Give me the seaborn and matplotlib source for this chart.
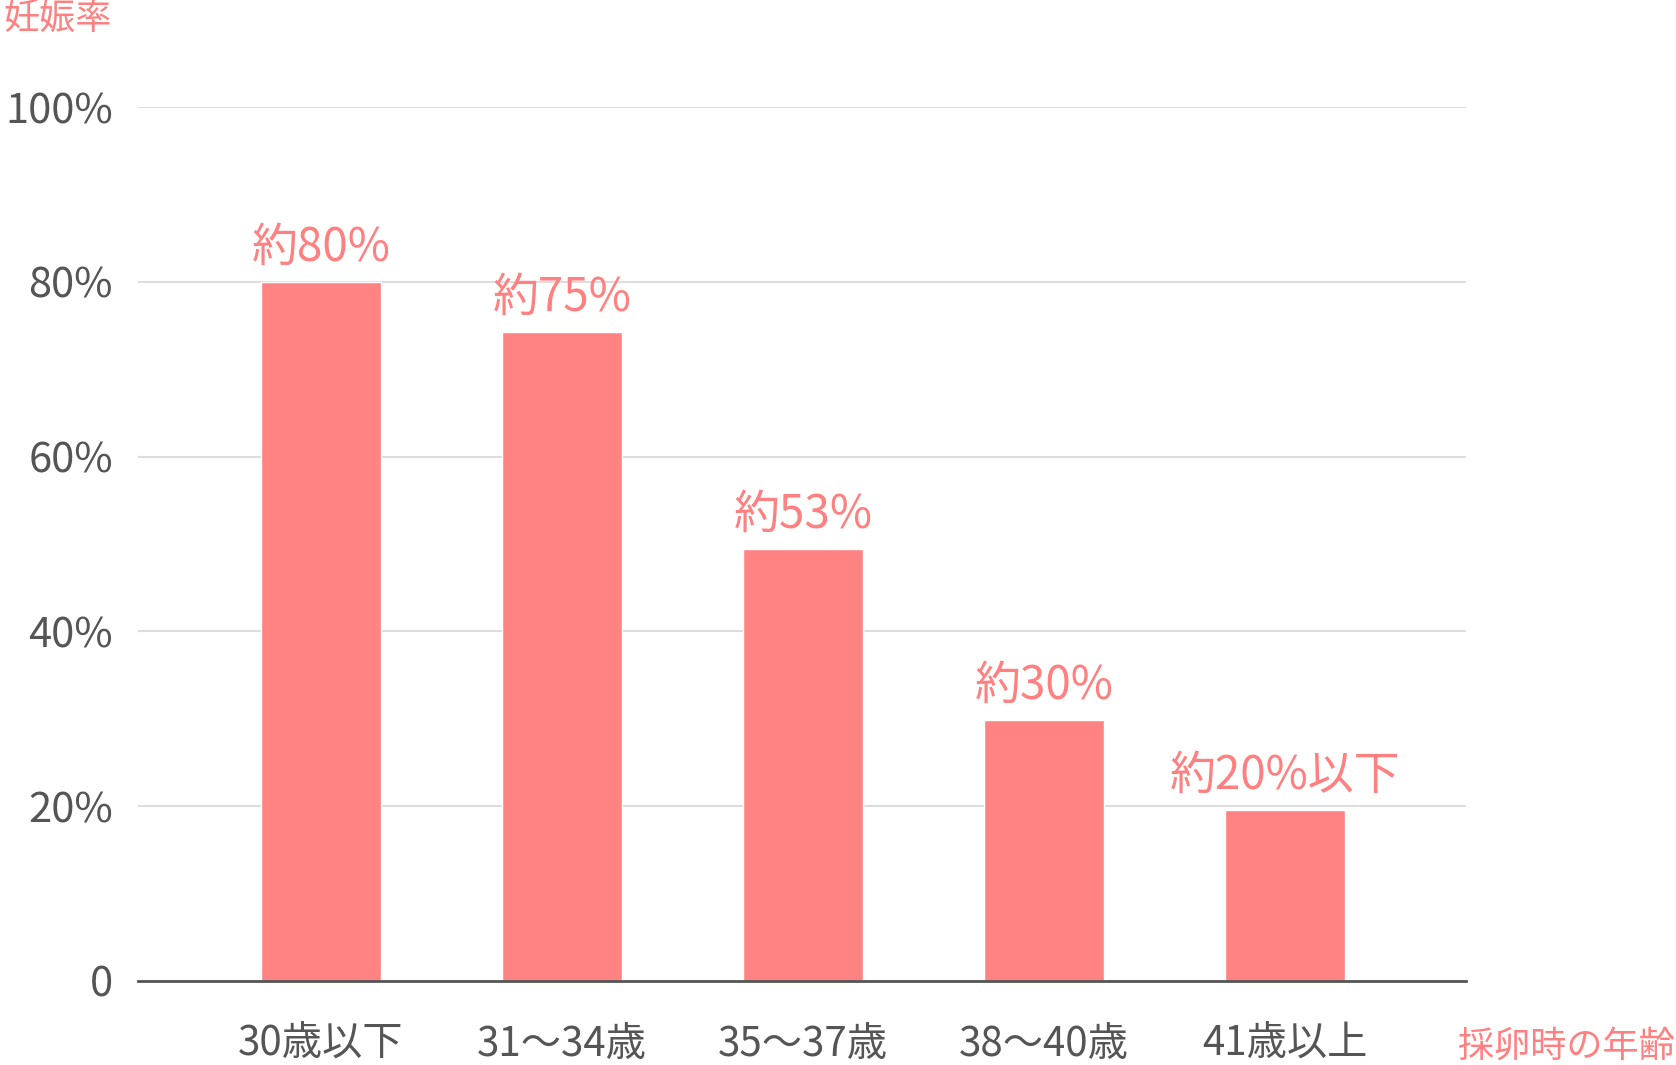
import numpy as np
import pandas as pd
import matplotlib
matplotlib.use("Agg")
import matplotlib.pyplot as plt
import seaborn as sns

# data
ages = ["30歳以下", "31～34歳", "35～37歳", "38～40歳", "41歳以上"]
rates = [80.0, 74.3, 49.4, 29.9, 19.6]
bar_labels = ["約80%", "約75%", "約53%", "約30%", "約20%以下"]
y_ticks = [0, 20, 40, 60, 80, 100]
y_ticklabels = ["0", "20%", "40%", "60%", "80%", "100%"]

PINK = "#ff8383"
TEXT_PINK = "#ff8080"
GRAY = "#555555"

sns.set_theme(style="white")
plt.rcParams["font.family"] = ["Noto Sans CJK JP", "DejaVu Sans"]

df = pd.DataFrame({"age": ages, "rate": rates})

fig = plt.figure(figsize=(16.76, 10.65), dpi=100)
ax = fig.add_axes([0.0823, 0.0789, 0.7924, 0.8206])

sns.barplot(data=df, x="age", y="rate", color=PINK, saturation=1,
            width=0.5, ax=ax, zorder=3)

ax.set_xlim(-0.759, 4.751)
ax.set_ylim(0, 100)
ax.set_yticks(y_ticks)
ax.set_yticklabels(y_ticklabels)
ax.set_xlabel("")
ax.set_ylabel("")

# grid + baseline
ax.yaxis.grid(True, color="#dddddd", lw=1.5, zorder=0)
ax.set_axisbelow(True)
for side in ["top", "left", "right"]:
    ax.spines[side].set_visible(False)
ax.spines["bottom"].set_color(GRAY)
ax.spines["bottom"].set_linewidth(2)
ax.spines["bottom"].set_zorder(4)

ax.tick_params(axis="y", length=0, pad=18, labelsize=30, labelcolor=GRAY)
ax.tick_params(axis="x", length=0, pad=31, labelsize=29, labelcolor=GRAY)

# value labels above the bars
for i, (v, lab) in enumerate(zip(rates, bar_labels)):
    ax.text(i, v + 2.4, lab, ha="center", va="baseline",
            fontsize=33, color=TEXT_PINK, clip_on=False)

# axis titles
fig.text(0.002, 0.982, "妊娠率", ha="left", va="center",
         fontsize=26, color=TEXT_PINK)
fig.text(0.999, 0.017, "採卵時の年齢", ha="right", va="center",
         fontsize=26, color=TEXT_PINK)

fig.savefig("out.png", dpi=100, facecolor="white")
